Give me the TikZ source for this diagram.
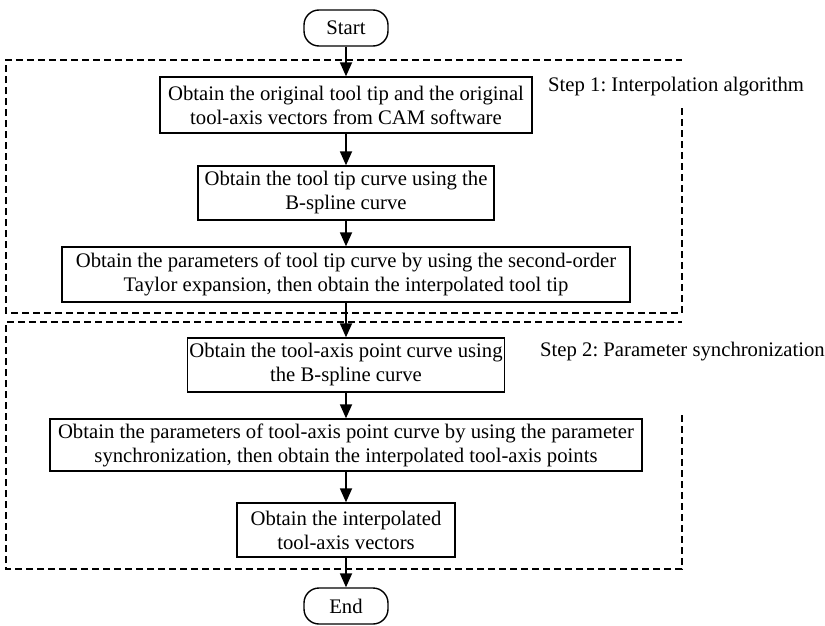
\documentclass[tikz,border=0pt]{standalone}
\usepackage{fontspec}
\setmainfont{Liberation Serif}
\usetikzlibrary{arrows.meta}
\frenchspacing
\begin{document}
\begin{tikzpicture}[x=1pt,y=-1pt,
  every node/.style={font=\fontsize{20.7}{24}\selectfont, inner sep=0pt, align=center},
  procbox/.style={draw, line width=1.4pt},
  terminal/.style={draw, line width=1.4pt, rounded corners=15pt,
    minimum width=84pt, minimum height=36pt},
  flow/.style={line width=1.8pt, -{Triangle[length=14pt,width=12pt]}},
  frame/.style={line width=1.1pt, dash pattern=on 7pt off 4pt},
  steplabel/.style={anchor=west}
]
\useasboundingbox (0,0) rectangle (825,626);

% dashed frames around the two stages
\draw[frame] (682,108) -- (682,313) -- (6,313) -- (6,60) -- (682,60);
\draw[frame] (682,415) -- (682,569) -- (6,569) -- (6,322) -- (682,322);

\node[steplabel] (s1) at (548,87) {Step 1: Interpolation algorithm};
\node[steplabel] (s2) at (540,352) {Step 2: Parameter synchronization};

% flow chart nodes
\node[terminal] (start) at (346,28) {Start};
\node[procbox, minimum width=372pt, minimum height=56pt] (b1) at (346,105)
  {Obtain the original tool tip and the original\\tool-axis vectors from CAM software};
\node[procbox, minimum width=296pt, minimum height=54pt] (b2) at (346,193)
  {Obtain the tool tip curve using the\\B-spline curve};
\node[procbox, minimum width=568pt, minimum height=55pt] (b3) at (346,274.5)
  {Obtain the parameters of tool tip curve by using the second-order\\Taylor expansion, then obtain the interpolated tool tip};
\node[procbox, minimum width=317pt, minimum height=54pt] (b4) at (346,365)
  {Obtain the tool-axis point curve using\\the B-spline curve};
\node[procbox, minimum width=592pt, minimum height=52pt] (b5) at (346,445)
  {Obtain the parameters of tool-axis point curve by using the parameter\\synchronization, then obtain the interpolated tool-axis points};
\node[procbox, minimum width=218pt, minimum height=54pt] (b6) at (346,530)
  {Obtain the interpolated\\tool-axis vectors};
\node[terminal] (end) at (346,606) {End};

% connectors
\draw[flow] (start) -- (b1);
\draw[flow] (b1) -- (b2);
\draw[flow] (b2) -- (b3);
\draw[flow] (b3) -- (b4);
\draw[flow] (b4) -- (b5);
\draw[flow] (b5) -- (b6);
\draw[flow] (b6) -- (end);
\end{tikzpicture}
\end{document}
